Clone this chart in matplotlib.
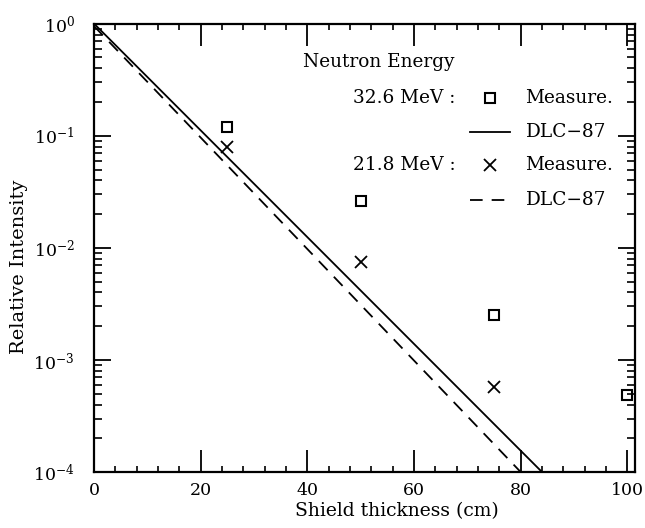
import matplotlib.pyplot as plt
from matplotlib.ticker import MultipleLocator, LogLocator, NullFormatter

plt.rcParams['font.family'] = ['DejaVu Serif']
plt.rcParams['mathtext.fontset'] = 'dejavuserif'

# measured points
thick = [25, 50, 75, 100]
meas_326 = [0.12, 0.026, 0.0025, 0.00049]
thick_218 = [25, 50, 75]
meas_218 = [0.08, 0.0075, 0.00057]

# DLC-87 calculation lines (end points)
calc_x_326 = [0, 84]
calc_y_326 = [1.0, 1e-4]
calc_x_218 = [0, 80]
calc_y_218 = [0.95, 1e-4]

fig = plt.figure(figsize=(6.45, 5.28), dpi=100)
ax = fig.add_axes([0.146, 0.106, 0.839, 0.849])

ax.plot(calc_x_326, calc_y_326, color='black', lw=1.3)
ax.plot(calc_x_218, calc_y_218, color='black', lw=1.3, dashes=(7, 5))
ax.plot(thick, meas_326, ls='none', marker='s', mfc='none', mec='black', ms=7, mew=1.5, clip_on=False)
ax.plot(thick_218, meas_218, ls='none', marker='x', color='black', ms=8, mew=1.3)

ax.set_yscale('log')
ax.set_xlim(0, 101.5)
ax.set_ylim(1e-4, 1)

ax.xaxis.set_major_locator(MultipleLocator(20))
ax.xaxis.set_minor_locator(MultipleLocator(4))
ax.yaxis.set_major_locator(LogLocator(base=10, numticks=10))
ax.yaxis.set_minor_locator(LogLocator(base=10, subs=range(2, 10), numticks=20))
ax.yaxis.set_minor_formatter(NullFormatter())

ax.tick_params(which='both', direction='in', top=True, right=True, labelsize=12.5)
ax.tick_params(axis='x', which='major', length=16, width=1.3, pad=7)
ax.tick_params(axis='x', which='minor', length=4, width=1.2)
ax.tick_params(axis='y', which='major', length=12, width=1.3, pad=14)
ax.tick_params(axis='y', which='minor', length=6, width=1.2)
for s in ax.spines.values():
    s.set_linewidth(1.6)

ax.set_xlabel('Shield thickness (cm)', fontsize=13.5)
ax.set_ylabel('Relative Intensity', fontsize=14)
ax.xaxis.set_label_coords(0.56, -0.068)
ax.yaxis.set_label_coords(-0.122, 0.457)

# legend block drawn as text
fs = 13.3
ax.text(0.386, 0.915, 'Neutron Energy', transform=ax.transAxes, fontsize=fs, va='center')
ax.text(0.479, 0.835, '32.6 MeV :', transform=ax.transAxes, fontsize=fs, va='center')
ax.plot([0.732], [0.835], transform=ax.transAxes, marker='s', mfc='none', mec='black', ms=7, mew=1.5)
ax.text(0.797, 0.835, 'Measure.', transform=ax.transAxes, fontsize=fs, va='center')
ax.plot([0.695, 0.769], [0.759, 0.759], transform=ax.transAxes, color='black', lw=1.3)
ax.text(0.797, 0.759, 'DLC\u221287', transform=ax.transAxes, fontsize=fs, va='center')
ax.text(0.479, 0.685, '21.8 MeV :', transform=ax.transAxes, fontsize=fs, va='center')
ax.plot([0.732], [0.685], transform=ax.transAxes, marker='x', color='black', ms=8, mew=1.3)
ax.text(0.797, 0.685, 'Measure.', transform=ax.transAxes, fontsize=fs, va='center')
ax.plot([0.695, 0.769], [0.607, 0.607], transform=ax.transAxes, color='black', lw=1.3, dashes=(7, 5))
ax.text(0.797, 0.607, 'DLC\u221287', transform=ax.transAxes, fontsize=fs, va='center')

plt.savefig('out.png', dpi=100)
